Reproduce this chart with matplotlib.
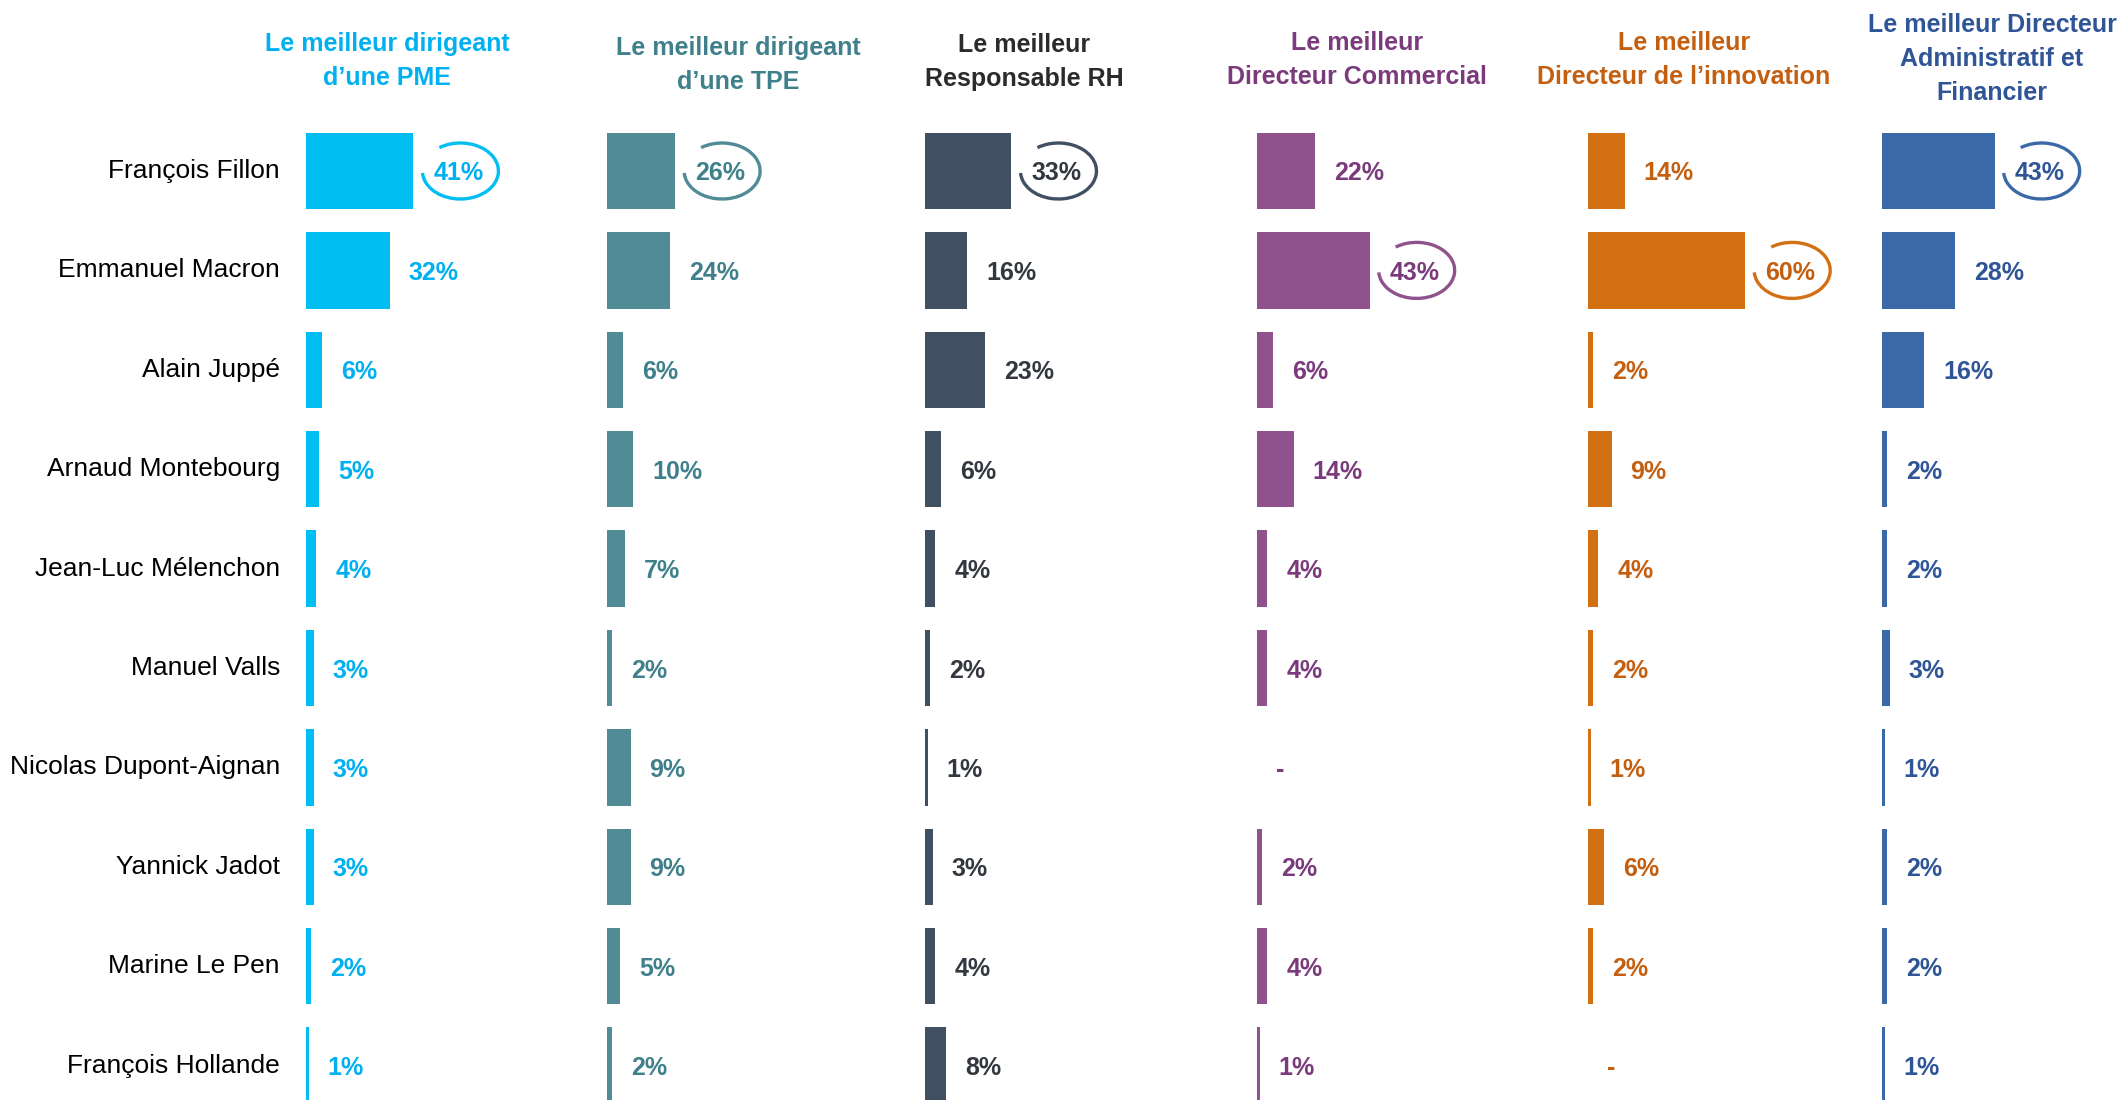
import matplotlib
matplotlib.use("Agg")
import matplotlib.pyplot as plt
from matplotlib.patches import Arc
from matplotlib.transforms import IdentityTransform, ScaledTranslation

plt.rcParams['font.family'] = ['Liberation Sans', 'DejaVu Sans']

# ---------------- data ----------------
candidates = ["François Fillon", "Emmanuel Macron", "Alain Juppé", "Arnaud Montebourg",
              "Jean-Luc Mélenchon", "Manuel Valls", "Nicolas Dupont-Aignan",
              "Yannick Jadot", "Marine Le Pen", "François Hollande"]

titles = ["Le meilleur dirigeant\nd’une PME",
          "Le meilleur dirigeant\nd’une TPE",
          "Le meilleur\nResponsable RH",
          "Le meilleur\nDirecteur Commercial",
          "Le meilleur\nDirecteur de l’innovation",
          "Le meilleur Directeur\nAdministratif et\nFinancier"]

pme = [41, 32, 6, 5, 4, 3, 3, 3, 2, 1]
tpe = [26, 24, 6, 10, 7, 2, 9, 9, 5, 2]
rh = [33, 16, 23, 6, 4, 2, 1, 3, 4, 8]
commercial = [22, 43, 6, 14, 4, 4, 0, 2, 4, 1]
innovation = [14, 60, 2, 9, 4, 2, 1, 6, 2, 0]
daf = [43, 28, 16, 2, 2, 3, 1, 2, 2, 1]

series = [pme, tpe, rh, commercial, innovation, daf]

bar_colors = ["#00BEF2", "#508B96", "#404F62", "#8F528D", "#D27013", "#3B69A8"]
text_colors = ["#00B0F0", "#3F808B", "#2B2B2B", "#7A3A7C", "#C55F10", "#2F5597"]
label_colors = ["#00B0F0", "#3F808B", "#333840", "#7A3A7C", "#C55F10", "#2F5597"]

# ---------------- layout (pixels) ----------------
W, H = 2125, 1100
fig = plt.figure(figsize=(W / 100, H / 100), dpi=100)

panel_left = [306, 607, 925, 1257, 1588, 1882]
title_cx = [387, 738, 1024, 1357, 1684, 1992]
title_y0 = [44, 48, 45, 43, 43, 25]
title_dy = 34
px_per_pct = 2.62
row0 = 171
row_step = 99.4
axes_w = 190

ax_top = row0 - row_step / 2
for k, vals in enumerate(series):
    ax = fig.add_axes([panel_left[k] / W, 0, axes_w / W, (H - ax_top) / H])
    ax.set_xlim(0, axes_w / px_per_pct)
    ax.set_ylim((H - row0) / row_step, -0.5)
    ax.axis("off")
    ypos = list(range(len(candidates)))
    ax.barh(ypos, vals, height=0.77, color=bar_colors[k], edgecolor="none")
    vmax = max(vals)
    for i, v in enumerate(vals):
        lab = f"{v}%" if v > 0 else "-"
        if v == vmax:
            ax.annotate(lab, xy=(v, i), xytext=(45, 0), textcoords="offset pixels",
                        ha="center", va="center_baseline", fontsize=18, fontweight="bold",
                        color=label_colors[k], annotation_clip=False)
            tr = IdentityTransform() + ScaledTranslation(v, i, ax.transData)
            arc = Arc((47, 0), 76, 56, theta1=183, theta2=492, transform=tr,
                      color=bar_colors[k], lw=2.4, clip_on=False)
            ax.add_patch(arc)
        else:
            ax.annotate(lab, xy=(v, i), xytext=(19, 0), textcoords="offset pixels",
                        ha="left", va="center_baseline", fontsize=18, fontweight="bold",
                        color=label_colors[k], annotation_clip=False)
    if k == 0:
        for i, name in enumerate(candidates):
            ax.annotate(name, xy=(0, i), xytext=(-(panel_left[0] - 280), 0),
                        textcoords="offset pixels", ha="right", va="center",
                        fontsize=19, color="black", annotation_clip=False)

# titles
for k, t in enumerate(titles):
    for j, line in enumerate(t.split("\n")):
        y = title_y0[k] + j * title_dy
        fig.text(title_cx[k] / W, 1 - y / H, line, ha="center", va="center",
                 fontsize=18, fontweight="bold", color=text_colors[k])

fig.savefig("out.png", dpi=100, facecolor="white")
